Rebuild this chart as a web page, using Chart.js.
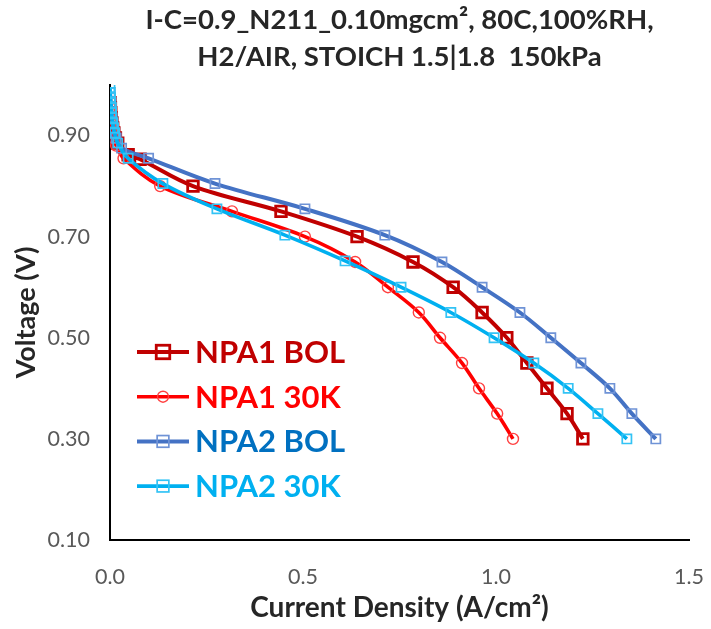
<!DOCTYPE html>
<html>
<head>
<meta charset="utf-8">
<script src="https://cdn.jsdelivr.net/npm/chart.js@4/dist/chart.umd.min.js"></script>
<style>
  html, body { margin: 0; padding: 0; background: #ffffff; }
  #wrap { width: 711px; height: 629px; position: relative; }
</style>
</head>
<body>
<div id="wrap"><canvas id="c" width="711" height="629"></canvas></div>
<script>
// ---- Data ----
const seriesNames = ['NPA1 BOL', 'NPA1 30K', 'NPA2 BOL', 'NPA2 30K'];

const npa1BolCurrent = [0.000,0.001,0.002,0.003,0.005,0.007,0.010,0.014,0.020,0.047,0.078,0.215,0.443,0.640,0.785,0.889,0.964,1.028,1.080,1.132,1.184,1.225];
const npa1BolVoltage = [0.965,0.955,0.945,0.935,0.925,0.915,0.905,0.895,0.885,0.862,0.853,0.800,0.750,0.700,0.650,0.600,0.550,0.500,0.450,0.400,0.350,0.300];

const npa1K30Current = [0.000,0.001,0.002,0.003,0.005,0.007,0.010,0.016,0.035,0.130,0.316,0.505,0.635,0.720,0.800,0.855,0.912,0.956,1.003,1.044];
const npa1K30Voltage = [0.955,0.945,0.935,0.925,0.915,0.905,0.895,0.880,0.855,0.800,0.750,0.700,0.650,0.600,0.550,0.500,0.450,0.400,0.350,0.300];

const npa2BolCurrent = [0.000,0.001,0.002,0.003,0.004,0.005,0.007,0.009,0.012,0.016,0.030,0.100,0.272,0.505,0.712,0.860,0.964,1.062,1.142,1.220,1.295,1.352,1.414];
const npa2BolVoltage = [0.985,0.975,0.965,0.955,0.945,0.935,0.925,0.915,0.905,0.895,0.875,0.855,0.805,0.755,0.703,0.650,0.600,0.550,0.500,0.450,0.400,0.350,0.300];

const npa2K30Current = [0.000,0.0005,0.001,0.002,0.003,0.004,0.005,0.007,0.009,0.012,0.020,0.047,0.137,0.277,0.453,0.609,0.754,0.883,0.995,1.098,1.187,1.264,1.339];
const npa2K30Voltage = [0.995,0.985,0.975,0.965,0.955,0.945,0.935,0.925,0.915,0.905,0.885,0.855,0.805,0.755,0.703,0.652,0.600,0.550,0.500,0.450,0.400,0.350,0.300];

const xTickValues = [0.0, 0.5, 1.0, 1.5];
const yTickValues = [0.1, 0.3, 0.5, 0.7, 0.9];

const titleLines = ['I-C=0.9_N211_0.10mgcm\u00B2, 80C,100%RH,', 'H2/AIR, STOICH 1.5|1.8  150kPa'];
const xAxisTitle = 'Current Density (A/cm\u00B2)';
const yAxisTitle = 'Voltage (V)';

// ---- Styles ----
const FONT = "Lato, 'Open Sans', 'Liberation Sans', sans-serif";
const styles = [
  { line: '#C00000', marker: '#C00000', text: '#C00000', style: 'rect', radius: 7.5, bw: 2.8, lw: 4 },
  { line: '#FF0000', marker: '#FF4040', text: '#FF0000', style: 'circle', radius: 5.5, bw: 1.4, lw: 3.6 },
  { line: '#4472C4', marker: '#6F93D6', text: '#0070C0', style: 'rect', radius: 6.5, bw: 1.7, lw: 4 },
  { line: '#00B0F0', marker: '#33C3F5', text: '#00B0F0', style: 'rect', radius: 6.5, bw: 1.7, lw: 3.6 }
];

function toPoints(xs, ys) { return xs.map((x, i) => ({ x: x, y: ys[i] })); }
const seriesData = [
  toPoints(npa1BolCurrent, npa1BolVoltage),
  toPoints(npa1K30Current, npa1K30Voltage),
  toPoints(npa2BolCurrent, npa2BolVoltage),
  toPoints(npa2K30Current, npa2K30Voltage)
];

const datasets = seriesNames.map((name, i) => ({
  label: name,
  data: seriesData[i],
  borderColor: styles[i].line,
  borderWidth: styles[i].lw,
  pointStyle: styles[i].style,
  pointRadius: styles[i].radius,
  pointBorderColor: styles[i].marker,
  pointBorderWidth: styles[i].bw,
  pointBackgroundColor: 'rgba(0,0,0,0)',
  pointHoverRadius: styles[i].radius,
  tension: 0.35,
  fill: false,
  order: 4 - i
}));

// Custom in-plot legend (colored bold text, like the reference)
const inPlotLegend = {
  id: 'inPlotLegend',
  afterDraw(chart) {
    const ctx = chart.ctx;
    const x0 = 137, x1 = 189, mx = 163, tx = 195;
    const y0 = 352, dy = 44.7;
    ctx.save();
    chart.data.datasets.forEach((ds, i) => {
      const st = styles[i];
      const y = y0 + i * dy;
      ctx.strokeStyle = st.line;
      ctx.lineWidth = st.lw;
      ctx.beginPath(); ctx.moveTo(x0, y); ctx.lineTo(x1, y); ctx.stroke();
      ctx.lineWidth = st.bw;
      ctx.strokeStyle = st.marker;
      if (st.style === 'circle') {
        ctx.beginPath(); ctx.arc(mx, y, st.radius, 0, Math.PI * 2); ctx.stroke();
      } else {
        const r = st.radius * 0.9;
        ctx.strokeRect(mx - r, y - r, 2 * r, 2 * r);
      }
      ctx.fillStyle = st.text;
      ctx.font = 'bold 31px ' + FONT;
      ctx.textAlign = 'left';
      ctx.textBaseline = 'middle';
      ctx.fillText(ds.label, tx, y + 1);
    });
    ctx.restore();
  }
};

new Chart(document.getElementById('c'), {
  type: 'line',
  data: { datasets: datasets },
  plugins: [inPlotLegend],
  options: {
    responsive: false,
    animation: false,
    layout: { padding: { left: 0, right: 22, top: 0, bottom: 0 } },
    plugins: {
      legend: { display: false },
      tooltip: { enabled: false },
      title: {
        display: true,
        text: titleLines,
        fullSize: false,
        color: '#262626',
        font: { family: FONT, size: 27.5, weight: 'bold', lineHeight: 1.345 },
        padding: { top: 1.5, bottom: 9.5 }
      }
    },
    scales: {
      x: {
        type: 'linear',
        min: 0, max: 1.5,
        grid: { display: false, drawTicks: false },
        border: { display: true, color: '#000000', width: 2 },
        afterBuildTicks: (s) => { s.ticks = xTickValues.map(v => ({ value: v })); },
        afterFit: (s) => { s.height = 89; s.paddingLeft = 0; s.paddingRight = 0; },
        ticks: {
          padding: 24,
          color: '#595959',
          font: { family: FONT, size: 21.5 },
          callback: (v) => Number(v).toFixed(1)
        },
        title: {
          display: true,
          text: xAxisTitle,
          color: '#262626',
          font: { family: FONT, size: 28, weight: 'bold' },
          padding: { top: 0, bottom: 4 }
        }
      },
      y: {
        type: 'linear',
        min: 0.1, max: 1.0,
        grid: { display: false, drawTicks: false },
        border: { display: true, color: '#000000', width: 2 },
        afterBuildTicks: (s) => { s.ticks = yTickValues.map(v => ({ value: v })); },
        afterFit: (s) => { s.width = 110; s.paddingTop = 0; s.paddingBottom = 0; },
        ticks: {
          padding: 20,
          color: '#595959',
          font: { family: FONT, size: 21.5 },
          callback: (v) => Number(v).toFixed(2)
        },
        title: {
          display: true,
          text: yAxisTitle,
          color: '#262626',
          font: { family: FONT, size: 27, weight: 'bold' },
          padding: { top: 10, bottom: 0 }
        }
      }
    }
  }
});
</script>
</body>
</html>
